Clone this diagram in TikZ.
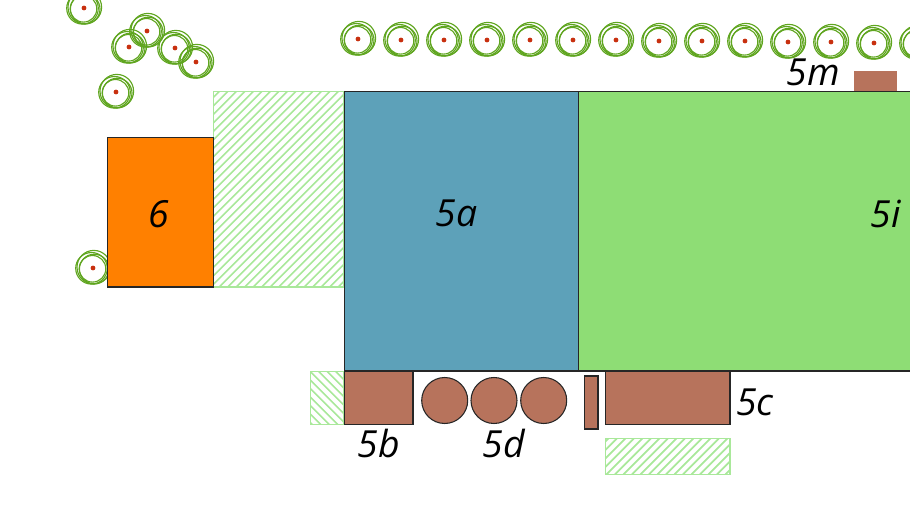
\documentclass[tikz,border=0pt]{standalone}
\usepackage{fontspec}
\setmainfont{Open Sans}
\definecolor{bluezone}{HTML}{5DA1B9}
\definecolor{greenzone}{HTML}{8EDD75}
\definecolor{orangezone}{HTML}{FF8000}
\definecolor{brownzone}{HTML}{B7735C}
\definecolor{hatchgreen}{HTML}{A9E89A}
\definecolor{treegreen}{HTML}{5FA51F}
\definecolor{dotred}{HTML}{C8300F}
\newcommand{\planttree}[2]{%
  \begin{scope}[shift={(#1,#2)}]
    \draw[treering] (0.8,-0.8) circle (16.8);
    \draw[treering] (-1.5,0.3) circle (15.8);
    \draw[treering] (1.2,1) circle (14.8);
    \draw[treering] (-0.5,0.8) circle (13.3);
    \fill[dotred] (0,0) circle (2.4);
  \end{scope}}
\newcommand{\hatchrect}[6]{%
  \begin{scope}
    \clip (#1,#2) rectangle (#3,#4);
    \foreach \k in {-60,...,60} {
      \draw[hatchline] ({(#1+#3)/2+\k*#6},{#2}) -- ++({#5*(#4-#2)},{#4-#2});
    }
  \end{scope}
  \draw[hatchframe] (#1,#2) rectangle (#3,#4);}
\tikzset{
  treering/.style={draw=treegreen,line width=0.85pt},
  hatchline/.style={draw=hatchgreen,line width=1.25pt},
  hatchframe/.style={draw=hatchgreen,line width=1pt},
  zone/.style={draw=black!85,line width=0.8pt},
  zonelabel/.style={font=\itshape\fontsize{28}{28}\selectfont,text=black,inner sep=0pt}
}
\begin{document}
\begin{tikzpicture}[x=0.75pt,y=-0.75pt]
\useasboundingbox (0,0) rectangle (910,507);
\clip (0,0) rectangle (910,507);
% trees
\foreach \a/\b in {84/8,129/47,147/31,175/48,196/62,116/92,93/268,
  358/39,401/40,444/40,487/40,530/40,573/40,616/40,659/41,702/41,745/41,788/42,831/42,874/43,917/43} {
  \planttree{\a}{\b}
}
% hatch areas
\hatchrect{213.5}{91.5}{344}{287}{-1}{8.5}
\hatchrect{310.5}{371.5}{344}{424.5}{1}{8.5}
\hatchrect{605.8}{438.5}{730}{474.5}{-1}{8.5}
% zones
\fill[bluezone] (344.3,91.5) rectangle (578.3,371);
\fill[greenzone] (578.3,91.5) rectangle (915,371);
\draw[zone] (915,91.5) -- (344.3,91.5) -- (344.3,371) -- (915,371);
\draw[zone] (578.3,91.5) -- (578.3,371);
\draw[zone,fill=orangezone] (107.8,137.5) rectangle (213.5,287);
\draw[zone,fill=brownzone] (344.3,371.5) rectangle (413,424.5);
\draw[zone,fill=brownzone] (444.7,400.5) circle (23);
\draw[zone,fill=brownzone] (494,400.5) circle (23);
\draw[zone,fill=brownzone] (543.7,400.5) circle (23);
\draw[zone,fill=brownzone] (584.8,376) rectangle (598,429);
\draw[zone,fill=brownzone] (605.8,371.5) rectangle (730,424.5);
\fill[brownzone] (853.7,71) rectangle (897,91);
% labels
\node[zonelabel] (l6) at (158.5,214) {6};
\node[zonelabel] (l5a) at (456.5,213.5) {5a};
\node[zonelabel] (l5i) at (885.5,213.5) {5i};
\node[zonelabel] (l5m) at (813.5,72) {5m};
\node[zonelabel] (l5b) at (378.5,443.5) {5b};
\node[zonelabel] (l5d) at (503.5,443.5) {5d};
\node[zonelabel] (l5c) at (755,402) {5c};
\end{tikzpicture}
\end{document}
